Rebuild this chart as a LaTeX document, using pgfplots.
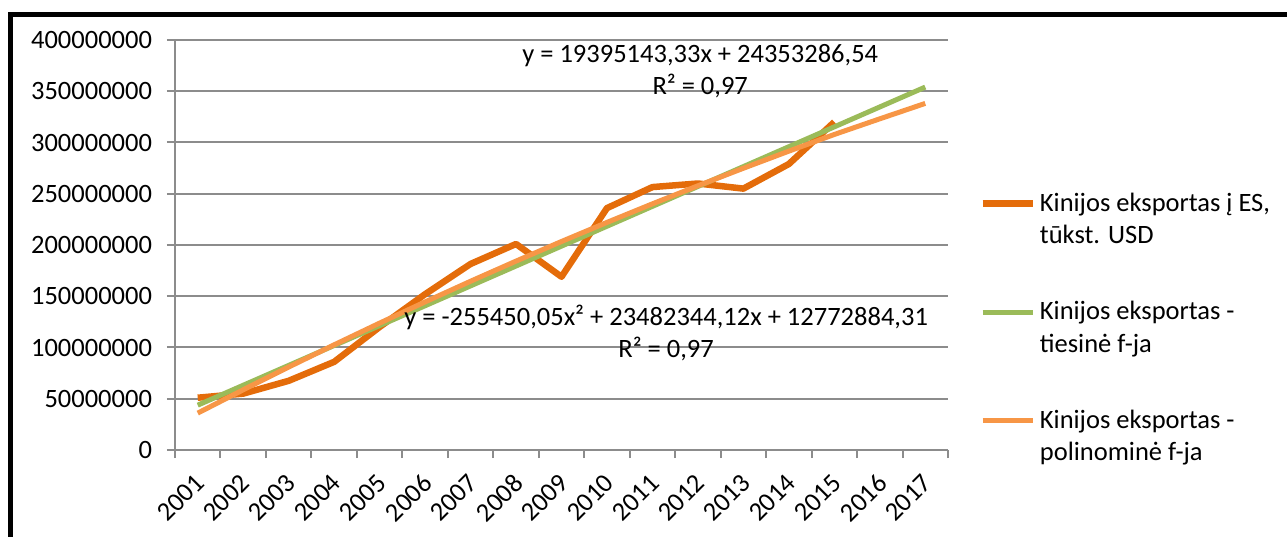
\documentclass[border=0pt]{standalone}
\usepackage{fontspec}
\setmainfont{Carlito}
\usepackage{pgfplots}
\usepackage{pgfplotstable}
\pgfplotsset{compat=1.18}

\definecolor{expo}{HTML}{E46C0A}
\definecolor{lin}{HTML}{9BBB59}
\definecolor{poly}{HTML}{F79646}
\definecolor{gridc}{HTML}{8C8C8C}

% Kinijos eksportas i ES, tukst. USD (2001 = 1)
\pgfplotstableread{
x y
1 51000000
2 55000000
3 67500000
4 86000000
5 120000000
6 152000000
7 181500000
8 201000000
9 169000000
10 236000000
11 256500000
12 260000000
13 255000000
14 279000000
15 320000000
}\exports

\newcommand{\chfont}{\fontsize{13.25bp}{16.3bp}\selectfont}

\begin{document}
\begin{tikzpicture}
\useasboundingbox (0,0) rectangle (643.5bp,268.5bp);
\draw[line width=2.5bp, line join=miter] (5bp,0) -- (5bp,261.25bp) -- (643.5bp,261.25bp);

\begin{axis}[
  at={(87.5bp,43.5bp)}, anchor=south west,
  scale only axis, width=386.5bp, height=205bp,
  xmin=0.5, xmax=17.5, ymin=0, ymax=400000000,
  axis x line*=bottom, axis y line*=left,
  axis line style={-, draw=gridc, line width=1bp},
  xtick={1,2,3,4,5,6,7,8,9,10,11,12,13,14,15,16,17},
  xticklabels={2001,2002,2003,2004,2005,2006,2007,2008,2009,2010,2011,2012,2013,2014,2015,2016,2017},
  minor xtick={0.5,1.5,2.5,3.5,4.5,5.5,6.5,7.5,8.5,9.5,10.5,11.5,12.5,13.5,14.5,15.5,16.5,17.5},
  ytick={0,50000000,100000000,150000000,200000000,250000000,300000000,350000000,400000000},
  scaled y ticks=false,
  yticklabel style={/pgf/number format/fixed, /pgf/number format/1000 sep={}, xshift=-4bp},
  /pgf/number format/assume math mode=true,
  ymajorgrids, grid style={gridc, line width=1bp},
  tick align=outside,
  major tick length=4bp, minor tick length=4bp,
  tick style={gridc, line width=1bp},
  major x tick style={draw=none},
  ticklabel style={font=\chfont},
  xticklabel style={rotate=45, anchor=north east, inner xsep=6.3bp, inner ysep=3.5bp},
  legend style={at={(1.0324,0.648)}, anchor=north west, draw=none, fill=none,
    font=\chfont, cells={align=left}, row sep=23.3bp},
  legend cell align=left,
  legend image code/.code={\path[draw=none, fill=none] (0bp,-8bp) -- (25bp,-8bp);
    \draw[#1] (0bp,8bp) -- (25bp,8bp);},
  line join=round,
]
\addplot[expo, line width=3.25bp] table {\exports};
\addlegendentry{Kinijos eksportas į ES,\\tūkst. USD}
\addplot[lin, line width=2.5bp] coordinates {(1,43748429.87) (17,354070723.15)};
\addlegendentry{Kinijos eksportas -\\tiesinė f-ja}
\addplot[poly, line width=2.5bp] coordinates {
  (1,35999778.38) (2,58715772.35) (3,80920866.22) (4,102615059.99)
  (5,123798353.66) (6,144470747.23) (7,164632240.70) (8,184282834.07)
  (9,203422528.34) (10,222051320.51) (11,240169213.58) (12,257776206.55)
  (13,274872299.42) (14,291557492.19) (15,307831584.86) (16,323095177.43)
  (17,338147668.90)};
\addlegendentry{Kinijos eksportas -\\polinominė f-ja}

\node[font=\chfont, align=center] at (axis cs:12.05,369800000)
  {y = 19395143,33x + 24353286,54\\R² = 0,97};
\node[font=\chfont, align=center] at (axis cs:11.3,114100000)
  {y = -255450,05x² + 23482344,12x + 12772884,31\\R² = 0,97};
\end{axis}
\end{tikzpicture}
\end{document}
